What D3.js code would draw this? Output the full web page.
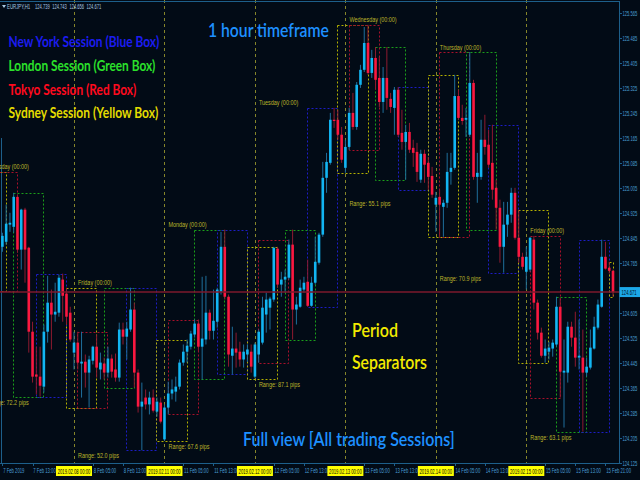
<!DOCTYPE html>
<html><head><meta charset="utf-8">
<script src="https://cdn.jsdelivr.net/npm/d3@7"></script>
<style>html,body{margin:0;padding:0;background:#020b16;overflow:hidden}</style>
</head><body><svg id="c" width="640" height="480"></svg>
<script>
// ---------------- DATA ----------------
const symbolText = "EURJPY,H1";
const headerOHLC = [124.739, 124.743, 124.656, 124.671];
const currentPrice = 124.671;
// trading days; bars start at 6 Feb 22:00 (2 bars) then 24 hourly bars per day
const tradingDays = ["2019.02.07","2019.02.08","2019.02.11","2019.02.12","2019.02.13","2019.02.14","2019.02.15"];
const dayNames = ["Thursday","Friday","Monday","Tuesday","Wednesday","Thursday","Friday"];
const rangePips = [72.2, 52.0, 67.6, 87.1, 55.1, 70.9, 63.1];

const opens = [124.743,124.755,124.781,124.749,124.711,124.864,124.999,
124.816,124.832,124.887,124.880,124.976,124.807,124.935,124.813,124.544,124.407,
124.400,124.368,124.544,124.637,124.599,124.605,124.711,124.666,124.605,124.477,
124.509,124.442,124.448,124.413,124.451,124.496,124.423,124.442,124.413,124.458,
124.423,124.397,124.551,124.528,124.551,124.615,124.413,124.304,124.333,124.311,
124.333,124.288,124.317,124.199,124.301,124.346,124.352,124.368,124.445,124.480,
124.496,124.535,124.570,124.496,124.519,124.605,124.547,124.576,124.672,124.816,
124.656,124.467,124.490,124.480,124.455,124.471,124.480,124.400,124.471,124.509,
124.599,124.621,124.647,124.810,124.695,124.711,124.717,124.823,124.615,124.624,
124.679,124.704,124.627,124.701,124.765,124.855,125.037,125.085,125.223,125.223,
125.175,125.069,125.136,125.245,125.200,125.335,125.383,125.469,125.373,125.421,
125.357,125.280,125.357,125.290,125.261,125.319,125.181,125.152,125.184,125.133,
125.120,125.031,125.114,125.085,125.043,124.951,124.976,124.944,124.957,125.056,
125.069,125.299,125.229,125.223,125.175,125.341,125.040,125.040,125.159,125.143,
125.085,125.005,124.941,124.816,124.887,124.919,124.989,124.845,124.784,124.736,
124.743,124.839,124.637,124.541,124.467,124.480,124.490,124.503,124.624,124.413,
124.413,124.560,124.525,124.461,124.461,124.413,124.429,124.490,124.557,124.624,
124.784,124.749,124.739];
const highs = [124.768,124.791,124.807,124.775,124.887,125.056,125.015,
124.861,124.951,124.925,124.989,124.983,124.938,124.941,124.816,124.576,124.496,
124.496,124.567,124.723,124.679,124.701,124.727,124.730,124.685,124.624,124.544,
124.544,124.544,124.471,124.467,124.499,124.535,124.477,124.461,124.496,124.471,
124.474,124.573,124.573,124.576,124.685,124.637,124.423,124.381,124.359,124.352,
124.359,124.333,124.333,124.311,124.384,124.391,124.400,124.455,124.503,124.519,
124.547,124.583,124.583,124.720,124.723,124.615,124.679,124.685,124.864,124.871,
124.663,124.560,124.541,124.512,124.503,124.503,124.503,124.509,124.551,124.656,
124.669,124.656,124.816,124.816,124.736,124.743,124.839,124.871,124.656,124.711,
124.720,124.775,124.720,124.848,124.861,125.088,125.117,125.245,125.261,125.255,
125.200,125.159,125.261,125.309,125.344,125.399,125.520,125.527,125.447,125.456,
125.424,125.392,125.456,125.309,125.328,125.328,125.255,125.207,125.213,125.159,
125.149,125.127,125.127,125.104,125.072,124.992,124.999,124.967,125.117,125.117,
125.367,125.319,125.271,125.261,125.440,125.351,125.117,125.223,125.239,125.191,
125.207,125.031,124.967,124.960,124.960,125.005,125.005,124.935,124.797,124.816,
124.848,124.851,124.647,124.557,124.519,124.512,124.519,124.656,124.653,124.519,
124.576,124.576,124.608,124.583,124.551,124.461,124.551,124.592,124.647,124.839,
124.832,124.768,124.743];
const lows = [124.711,124.727,124.736,124.675,124.695,124.851,124.823,
124.800,124.823,124.864,124.861,124.797,124.743,124.701,124.477,124.381,124.343,
124.336,124.349,124.509,124.487,124.576,124.592,124.576,124.567,124.512,124.423,
124.423,124.333,124.365,124.301,124.439,124.397,124.391,124.391,124.397,124.397,
124.384,124.384,124.503,124.455,124.544,124.365,124.285,124.164,124.295,124.279,
124.285,124.272,124.250,124.195,124.279,124.327,124.320,124.359,124.435,124.445,
124.487,124.525,124.480,124.391,124.503,124.519,124.519,124.557,124.663,124.647,
124.432,124.407,124.429,124.432,124.429,124.448,124.413,124.394,124.445,124.503,
124.541,124.551,124.640,124.685,124.656,124.669,124.711,124.519,124.567,124.621,
124.669,124.624,124.624,124.695,124.759,124.848,124.989,125.079,125.197,125.159,
125.085,125.053,125.127,125.191,125.191,125.325,125.376,125.367,125.357,125.319,
125.264,125.245,125.255,125.245,125.175,125.168,125.127,125.031,125.117,125.072,
125.024,125.021,125.021,124.999,124.973,124.864,124.848,124.848,124.941,125.015,
125.063,125.223,125.207,125.168,125.168,125.031,124.957,125.031,125.111,125.069,
124.967,124.871,124.765,124.733,124.848,124.893,124.839,124.765,124.743,124.679,
124.736,124.615,124.519,124.461,124.445,124.455,124.464,124.496,124.333,124.237,
124.381,124.496,124.432,124.423,124.224,124.400,124.423,124.487,124.551,124.621,
124.743,124.730,124.656];
const closes = [124.755,124.781,124.749,124.711,124.864,124.999,124.839,
124.851,124.890,124.893,124.976,124.807,124.935,124.807,124.544,124.400,124.400,
124.371,124.544,124.637,124.599,124.608,124.717,124.659,124.592,124.519,124.509,
124.445,124.448,124.413,124.455,124.496,124.429,124.445,124.413,124.458,124.416,
124.397,124.551,124.528,124.554,124.615,124.413,124.304,124.320,124.311,124.333,
124.291,124.320,124.256,124.301,124.346,124.359,124.368,124.445,124.480,124.499,
124.538,124.570,124.496,124.522,124.605,124.547,124.579,124.679,124.816,124.656,
124.471,124.490,124.477,124.455,124.480,124.487,124.432,124.503,124.544,124.621,
124.647,124.650,124.813,124.695,124.711,124.720,124.823,124.615,124.631,124.685,
124.701,124.627,124.701,124.768,124.855,125.037,125.088,125.223,125.219,125.175,
125.095,125.136,125.245,125.200,125.335,125.383,125.469,125.373,125.421,125.351,
125.280,125.357,125.293,125.264,125.319,125.175,125.152,125.184,125.127,125.117,
125.056,125.114,125.079,125.040,124.983,124.973,124.951,124.957,125.056,125.069,
125.299,125.229,125.219,125.229,125.341,125.040,125.053,125.159,125.136,125.079,
124.999,124.941,124.816,124.887,124.919,124.989,124.845,124.784,124.752,124.784,
124.845,124.637,124.541,124.467,124.490,124.493,124.509,124.624,124.416,124.419,
124.560,124.525,124.461,124.467,124.413,124.432,124.493,124.560,124.631,124.784,
124.746,124.739,124.671];

const priceTicks = [125.565,125.485,125.405,125.325,125.245,125.165,125.085,125.005,124.925,124.845,
  124.765,124.685,124.605,124.525,124.445,124.365,124.285,124.205,124.125];

const timeTickDay  = [0,0,1,1,2,2,3,3,4,4,5,5,6,6,6];
const timeTickHour = [5,13,5,13,5,13,5,13,5,13,5,13,5,13,21];
const timeTickText = ["7 Feb 2019","7 Feb 13:00","8 Feb 05:00","8 Feb 13:00","11 Feb 05:00","11 Feb 13:00",
  "12 Feb 05:00","12 Feb 13:00","13 Feb 05:00","13 Feb 13:00","14 Feb 05:00","14 Feb 13:00",
  "15 Feb 05:00","15 Feb 13:00","15 Feb 21:00"];

const sessionNames   = ["Sydney","Tokyo","London","New York"];
const sessionOffsets = [-2, 1, 8, 14];   // hours from 00:00 of the day
const sessionLength  = 8;

const legendTexts = ["New York Session (Blue Box)","London Session (Green Box)","Tokyo Session (Red Box)","Sydney Session (Yellow Box)"];

// ---------------- STYLE ----------------
const BG = "#020b16", AXIS = "#1d5f8a", AXTXT = "#4a9fd6";
const sessionColor = {"Sydney":"#b3b000","Tokyo":"#a8102a","London":"#1a9f1a","New York":"#1c1cc4"};
const legendColor = ["#1c1cf0","#2be02b","#ff0a1e","#e4dc00"];
const SANS = "'Liberation Sans', Arial, sans-serif";
const BIG = "Lato, 'Open Sans', sans-serif";

const svg = d3.select("#c");
svg.append("rect").attr("width",640).attr("height",480).attr("fill",BG);

const N = opens.length;
const plotR = 619, plotB = 463;
const x = d3.scaleLinear().domain([7, N-1]).range([2.4, 613]);
const y = d3.scaleLinear().domain([124.125, 125.565]).range([462.5, 13]);
const dayStart = d => 2 + 24*d;

svg.append("defs").append("clipPath").attr("id","pc")
  .append("rect").attr("x",0).attr("y",0).attr("width",plotR).attr("height",plotB);
const plot = svg.append("g").attr("clip-path","url(#pc)");

// horizontally squashed text (screenshot was squeezed horizontally)
function sq(g, str, px, py, size, color, sx, family, weight, anchor){
  const t = g.append("text").attr("x",0).attr("y",0).attr("font-size",size)
    .attr("fill",color).attr("font-family",family||SANS).attr("font-weight",weight||"normal").text(str);
  if(anchor) t.attr("text-anchor",anchor);
  t.attr("transform",`translate(${px},${py}) scale(${sx},1)`);
  return t;
}
function fit(g, str, px, py, size, color, width, weight){
  const t = g.append("text").attr("x",0).attr("y",0).attr("font-size",size).attr("fill",color)
    .attr("font-family",BIG).attr("font-weight",weight||"bold").text(str);
  const L = t.node().getComputedTextLength();
  t.attr("transform",`translate(${px},${py}) scale(${width/L},1)`);
  return t;
}

// period separators
for(let d=0; d<tradingDays.length; d++){
  const xs = Math.round(x(dayStart(d)))+0.5;
  plot.append("line").attr("x1",xs).attr("x2",xs).attr("y1",0).attr("y2",plotB)
    .attr("stroke","#85852a").attr("stroke-width",1).attr("stroke-dasharray","3,3");
}
// thin left vertical line
plot.append("line").attr("x1",1.5).attr("x2",1.5).attr("y1",138).attr("y2",plotB)
  .attr("stroke",AXIS).attr("stroke-width",1);

// session boxes
for(let d=0; d<=tradingDays.length; d++){
  sessionNames.forEach((s,si)=>{
    const st = dayStart(d)+sessionOffsets[si];
    if(st > N-1) return;
    const en = Math.min(st+sessionLength, N-1);
    const a = Math.max(st,0);
    let hi=-Infinity, lo=Infinity;
    for(let k=a;k<=en;k++){ hi=Math.max(hi,highs[k]); lo=Math.min(lo,lows[k]); }
    const x1 = Math.round(x(st)-0.5)+0.5, x2 = Math.round(x(en)-0.5)+0.5;
    const y1 = Math.round(y(hi))+0.5, y2 = Math.round(y(lo))+0.5;
    plot.append("rect").attr("x",x1).attr("y",y1).attr("width",x2-x1).attr("height",y2-y1)
      .attr("fill","none").attr("stroke",sessionColor[s]).attr("stroke-width",1)
      .attr("stroke-dasharray","2,2");
  });
}

// candles
const bars = d3.range(N).map(k=>({k,o:opens[k],h:highs[k],l:lows[k],c:closes[k]}));
const cg = plot.append("g");
cg.selectAll("line.w").data(bars).join("line").attr("class","w")
  .attr("x1",d=>x(d.k)).attr("x2",d=>x(d.k)).attr("y1",d=>y(d.h)).attr("y2",d=>y(d.l))
  .attr("stroke",d=>d.c>=d.o?"#1f6f9c":"#8e1a30").attr("stroke-width",1);
cg.selectAll("rect.b").data(bars).join("rect").attr("class","b")
  .attr("x",d=>x(d.k)-1.3).attr("width",2.6)
  .attr("y",d=>y(Math.max(d.o,d.c))).attr("height",d=>Math.max(1,Math.abs(y(d.o)-y(d.c))))
  .attr("fill",d=>d.c>=d.o?"#12b5f2":"#fa1840");

// current price line
const yc = y(currentPrice);
plot.append("line").attr("x1",0).attr("x2",plotR).attr("y1",yc).attr("y2",yc)
  .attr("stroke","#7d1a2c").attr("stroke-width",1.4);

// day labels & ranges
const lblC = "#bdb52a";
for(let d=0; d<tradingDays.length; d++){
  const ds = dayStart(d), de = Math.min(ds+23, N-1);
  let hi=-Infinity, lo=Infinity;
  for(let k=ds;k<=de;k++){ hi=Math.max(hi,highs[k]); lo=Math.min(lo,lows[k]); }
  sq(plot, dayNames[d]+" (00:00)", x(ds)+4, y(hi)-2.5, 8, lblC, 0.68);
  sq(plot, "Range: "+rangePips[d].toFixed(1)+" pips", x(ds)+4, y(lo)+8, 8, lblC, 0.68);
}

// axes
const ax = svg.append("g");
ax.append("line").attr("x1",plotR+0.5).attr("x2",plotR+0.5).attr("y1",1).attr("y2",plotB+0.5).attr("stroke",AXIS);
ax.append("line").attr("x1",0).attr("x2",plotR+0.5).attr("y1",plotB+0.5).attr("y2",plotB+0.5).attr("stroke",AXIS);
ax.append("line").attr("x1",0).attr("x2",plotR+0.5).attr("y1",1.5).attr("y2",1.5).attr("stroke",AXIS);
priceTicks.forEach(p=>{
  const yy = Math.round(y(p))+0.5;
  ax.append("line").attr("x1",plotR).attr("x2",plotR+3).attr("y1",yy).attr("y2",yy).attr("stroke",AXIS);
  if(Math.abs(yy-yc) > 8) sq(ax, p.toFixed(3), 622.5, yy+2.5, 7, AXTXT, 0.58);
});
// current price tag
ax.append("rect").attr("x",619.5).attr("y",yc-5).attr("width",20.5).attr("height",10).attr("fill","#1ca8e8");
sq(ax, currentPrice.toFixed(3), 621.5, yc+2.5, 7, "#02101c", 0.6);

// time axis
timeTickText.forEach((t,i)=>{
  const k = dayStart(timeTickDay[i]) + timeTickHour[i];
  const xx = Math.round(x(k))+0.5;
  ax.append("line").attr("x1",xx).attr("x2",xx).attr("y1",plotB).attr("y2",plotB+3).attr("stroke",AXIS);
  sq(ax, t, x(k)+0.8, 473, 7, AXTXT, 0.6);
});
for(let d=1; d<tradingDays.length; d++){
  const xx = x(dayStart(d));
  ax.append("rect").attr("x",xx-18).attr("y",466).attr("width",36).attr("height",10).attr("fill","#ffff00");
  sq(ax, tradingDays[d]+" 00:00", xx, 473.5, 7, "#000", 0.6, SANS, "normal", "middle");
}

// header
const hd = svg.append("g");
hd.append("path").attr("d","M2,5 L6,5 L4,8 Z").attr("fill","#a8c8e0");
sq(hd, symbolText, 7, 9, 7, "#a8c8e0", 0.62);
headerOHLC.forEach((v,i)=> sq(hd, v.toFixed(3), 35+i*17.2, 9, 7, "#a8c8e0", 0.58));

// legend & annotations
const tg = svg.append("g");
const legendY = [47, 70.5, 94.5, 118];
const legendW = [151, 147, 128, 150];
legendTexts.forEach((t,i)=> fit(tg, t, 8.5, legendY[i], 15, legendColor[i], legendW[i]));
fit(tg, "1 hour timeframe", 208, 37, 20, "#1e90ff", 121, "600");
fit(tg, "Period", 352, 337, 20, "#f2ea00", 46, "600");
fit(tg, "Separators", 352, 369, 20, "#f2ea00", 75, "600");
fit(tg, "Full view [All trading Sessions]", 243, 446, 19, "#1e90ff", 212, "600");
</script>
</body></html>
